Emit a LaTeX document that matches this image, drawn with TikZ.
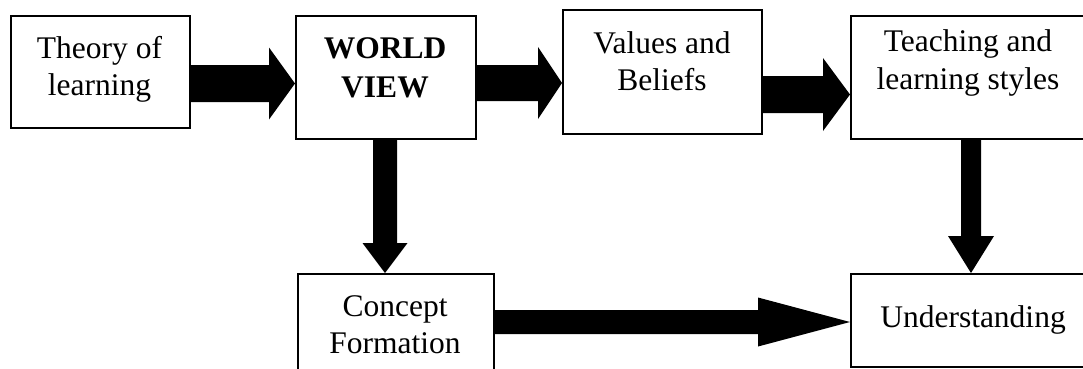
\documentclass[tikz,border=0pt]{standalone}
\usepackage{fontspec}
\setmainfont{Liberation Serif}
\usetikzlibrary{calc}
\tikzset{
  box/.style={draw=black, line width=1.6pt, fill=white, rectangle, inner sep=0pt, anchor=north west},
  lbl/.style={anchor=base, inner sep=0pt, font=\fontsize{31.5}{37}\selectfont},
  blbl/.style={lbl, font=\fontsize{31.5}{37}\selectfont\bfseries},
}
% horizontal block arrow: start, tip, shaft half, head half, head length
\newcommand\myharrow[5]{%
  \fill ($(#1)+(0,-#3)$) -- ($(#2)+(-#5,-#3)$) -- ($(#2)+(-#5,-#4)$) -- (#2)
     -- ($(#2)+(-#5,#4)$) -- ($(#2)+(-#5,#3)$) -- ($(#1)+(0,#3)$) -- cycle;}
% vertical (downward) block arrow
\newcommand\myvarrow[5]{%
  \fill ($(#1)+(-#3,0)$) -- ($(#2)+(-#3,-#5)$) -- ($(#2)+(-#4,-#5)$) -- (#2)
     -- ($(#2)+(#4,-#5)$) -- ($(#2)+(#3,-#5)$) -- ($(#1)+(#3,0)$) -- cycle;}
\begin{document}
\begin{tikzpicture}[x=1pt, y=-1pt]
\clip (0,0) rectangle (1083,368);
\fill[white] (0,0) rectangle (1083,368);

% boxes
\node[box, minimum width=179pt, minimum height=112pt] (theory) at (10,15) {};
\node[box, minimum width=180pt, minimum height=123pt] (world) at (295,15) {};
\node[box, minimum width=199pt, minimum height=124pt] (values) at (562,9) {};
\node[box, minimum width=250pt, minimum height=123pt] (teach) at (850,15) {};
\node[box, minimum width=196pt, minimum height=120pt] (concept) at (297,273) {};
\node[box, minimum width=250pt, minimum height=93pt] (under) at (850,273) {};

% texts
\node[lbl] (t1a) at (99.5,58) {Theory of};
\node[lbl] (t1b) at (99.5,95) {learning};
\node[blbl] (t2a) at (385,58) {WORLD};
\node[blbl] (t2b) at (385,97) {VIEW};
\node[lbl] (t3a) at (662,53) {Values and};
\node[lbl] (t3b) at (662,90) {Beliefs};
\node[lbl] (t4a) at (968,51) {Teaching and};
\node[lbl] (t4b) at (968,89) {learning styles};
\node[lbl] (t5a) at (395,316) {Concept};
\node[lbl] (t5b) at (395,353) {Formation};
\node[lbl] (t6) at (973,327) {Understanding};

% arrow anchors
\coordinate (a1s) at (theory.east |- 0,83.5);
\coordinate (a1e) at (world.west |- 0,83.5);
\coordinate (a2s) at (world.east |- 0,83);
\coordinate (a2e) at (values.west |- 0,83);
\coordinate (a3s) at (values.east |- 0,94.5);
\coordinate (a3e) at (teach.west |- 0,94.5);
\coordinate (a4s) at (teach.south -| 971,0);
\coordinate (a4e) at (under.north -| 971,0);
\coordinate (a5s) at (world.south -| 385,0);
\coordinate (a5e) at (concept.north -| 385,0);
\coordinate (a6s) at (concept.east |- 0,322);
\coordinate (a6e) at (under.west |- 0,322);

\myharrow{a1s}{a1e}{18.5}{36}{26}
\myharrow{a2s}{a2e}{18}{36}{24}
\myharrow{a3s}{a3e}{18.5}{36.5}{27}
\myvarrow{a4s}{a4e}{10}{23}{37}
\myvarrow{a5s}{a5e}{12}{22.5}{30}
\myharrow{a6s}{a6e}{12}{24.5}{92}
\end{tikzpicture}
\end{document}
